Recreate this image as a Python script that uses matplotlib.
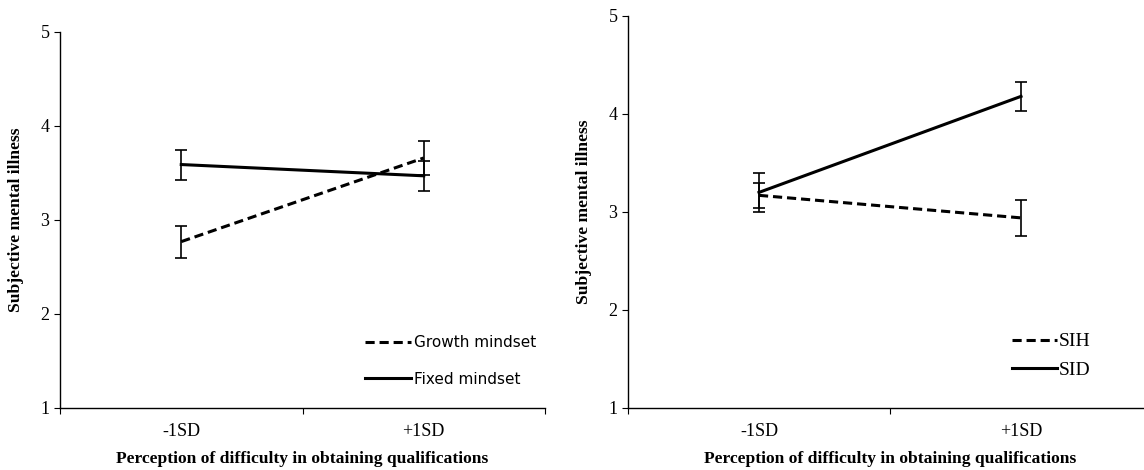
import numpy as np
import matplotlib.pyplot as plt

# data
levels = ['-1SD', '+1SD']

growth_mean = [2.77, 3.66]
growth_err = [0.17, 0.18]
fixed_mean = [3.59, 3.47]
fixed_err = [0.16, 0.16]

sih_mean = [3.17, 2.94]
sih_err = [0.13, 0.18]
sid_mean = [3.20, 4.18]
sid_err = [0.20, 0.15]

W, H = 1144, 470
fig = plt.figure(figsize=(W / 100, H / 100), dpi=100)

def px_axes(x0, x1, y0, y1):
    # pixel box -> figure fraction
    return fig.add_axes([x0 / W, 1 - y1 / H, (x1 - x0) / W, (y1 - y0) / H])

serif = 'Liberation Serif'
xpos = np.array([0.5, 1.5])


def style(ax):
    for s in ['top', 'right']:
        ax.spines[s].set_visible(False)
    for s in ['left', 'bottom']:
        ax.spines[s].set_linewidth(1.0)
    ax.set_xlim(0, 2)
    ax.set_ylim(1, 5)
    ax.set_yticks([1, 2, 3, 4, 5])
    ax.set_xticks([0, 1, 2])
    ax.set_xticklabels([])
    ax.set_xticks(xpos, minor=True)
    ax.set_xticklabels(levels, minor=True, fontfamily=serif, fontsize=13)
    ax.tick_params(axis='x', which='minor', length=0, pad=11)
    ax.tick_params(axis='x', which='major', length=4, direction='out')
    ax.tick_params(axis='y', length=4, direction='out', labelsize=13)
    for t in ax.get_yticklabels():
        t.set_fontfamily(serif)
    ax.set_xlabel('Perception of difficulty in obtaining qualifications',
                  fontfamily=serif, fontweight='bold', fontsize=12.6,
                  labelpad=8)
    ax.set_ylabel('Subjective mental illness', fontfamily=serif,
                  fontweight='bold', fontsize=12.6, labelpad=12)


# left panel
ax1 = px_axes(60, 545, 32, 408)
ax1.errorbar(xpos, growth_mean, yerr=growth_err, color='black', lw=2.2,
             ls=(0, (3, 1.6)), capsize=4, elinewidth=1.2, capthick=1.2,
             label='Growth mindset')
ax1.errorbar(xpos, fixed_mean, yerr=fixed_err, color='black', lw=2.2,
             ls='-', capsize=4, elinewidth=1.2, capthick=1.2,
             label='Fixed mindset')
style(ax1)
h, l = ax1.get_legend_handles_labels()
h = [x[0] for x in h]
ax1.legend(h, l, loc='lower left', bbox_to_anchor=(0.6, 0.02), frameon=False,
           handlelength=3.0, handletextpad=0.2, labelspacing=1.4,
           prop={'family': 'DejaVu Sans', 'size': 11})

# right panel (its x axis runs past the right edge of the picture)
ax2 = px_axes(628, 1152, 16, 408)
ax2.errorbar(xpos, sih_mean, yerr=sih_err, color='black', lw=2.2,
             ls=(0, (3, 1.6)), capsize=4, elinewidth=1.2, capthick=1.2,
             label='SIH')
ax2.errorbar(xpos, sid_mean, yerr=sid_err, color='black', lw=2.2,
             ls='-', capsize=4, elinewidth=1.2, capthick=1.2,
             label='SID')
style(ax2)
h, l = ax2.get_legend_handles_labels()
h = [x[0] for x in h]
ax2.legend(h, l, loc='lower left', bbox_to_anchor=(0.70, 0.03), frameon=False,
           handlelength=2.3, handletextpad=0.1, labelspacing=0.55,
           prop={'family': serif, 'size': 14})

fig.savefig('out.png', dpi=100)
